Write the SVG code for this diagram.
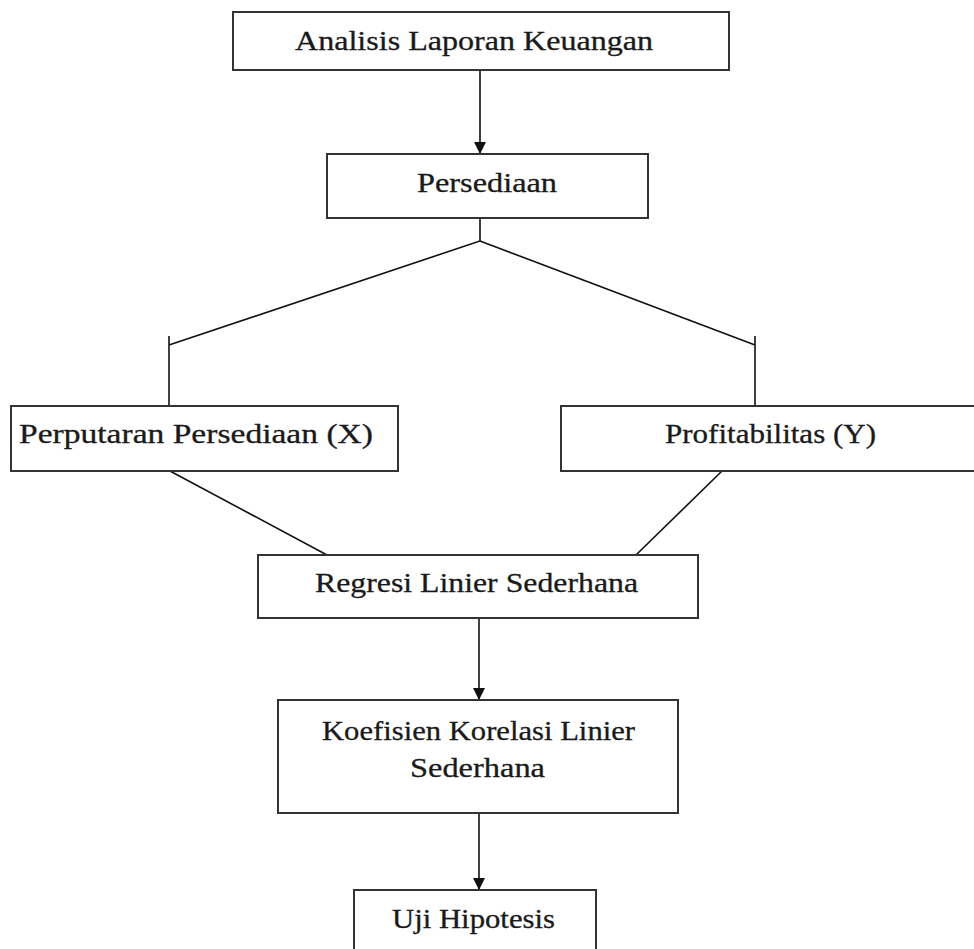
<svg xmlns="http://www.w3.org/2000/svg" width="974" height="949" viewBox="0 0 974 949">
<defs>
<style>
.box{fill:#fff;stroke:#333;stroke-width:2}
.t{font-family:"Liberation Serif","Times New Roman",serif;font-size:27px;fill:#1a1a1a;stroke:#1a1a1a;stroke-width:0.3}
.c{stroke:#111;stroke-width:1.6;fill:none}
</style>
<marker id="ah" viewBox="0 0 10 10" refX="10" refY="5" markerWidth="12" markerHeight="12" markerUnits="userSpaceOnUse" orient="auto">
<path d="M0,0 L10,5 L0,10 Z" fill="#111"/>
</marker>
</defs>
<rect width="974" height="949" fill="#fff"/>
<g id="connectors">
<line class="c" x1="480" y1="70" x2="480" y2="154" marker-end="url(#ah)"/>
<polyline class="c" points="480,218 480,241 169,345"/>
<line class="c" x1="480" y1="241" x2="755" y2="345"/>
<line class="c" x1="169" y1="336" x2="169" y2="406"/>
<line class="c" x1="755" y1="336" x2="755" y2="406"/>
<line class="c" x1="170" y1="471" x2="327" y2="555"/>
<line class="c" x1="722" y1="471" x2="636" y2="555"/>
<line class="c" x1="479" y1="618" x2="479" y2="700" marker-end="url(#ah)"/>
<line class="c" x1="479" y1="813" x2="479" y2="890" marker-end="url(#ah)"/>
</g>
<g id="n1"><rect class="box" x="233" y="12" width="496" height="58"/><text class="t" x="295" y="50" textLength="358" lengthAdjust="spacingAndGlyphs">Analisis Laporan Keuangan</text></g>
<g id="n2"><rect class="box" x="327" y="154" width="321" height="64"/><text class="t" x="417" y="192" textLength="140" lengthAdjust="spacingAndGlyphs">Persediaan</text></g>
<g id="n3"><rect class="box" x="11" y="406" width="387" height="65"/><text class="t" x="19" y="443" textLength="354" lengthAdjust="spacingAndGlyphs">Perputaran Persediaan (X)</text></g>
<g id="n4"><rect class="box" x="561" y="406" width="420" height="65"/><text class="t" x="665" y="443" textLength="211" lengthAdjust="spacingAndGlyphs">Profitabilitas (Y)</text></g>
<g id="n5"><rect class="box" x="258" y="555" width="440" height="63"/><text class="t" x="315" y="592" textLength="323" lengthAdjust="spacingAndGlyphs">Regresi Linier Sederhana</text></g>
<g id="n6"><rect class="box" x="278" y="700" width="400" height="113"/><text class="t" x="322" y="740" textLength="313" lengthAdjust="spacingAndGlyphs">Koefisien Korelasi Linier</text><text class="t" x="410" y="777" textLength="135" lengthAdjust="spacingAndGlyphs">Sederhana</text></g>
<g id="n7"><rect class="box" x="354" y="890" width="242" height="70"/><text class="t" x="392" y="928" textLength="163" lengthAdjust="spacingAndGlyphs">Uji Hipotesis</text></g>
</svg>
